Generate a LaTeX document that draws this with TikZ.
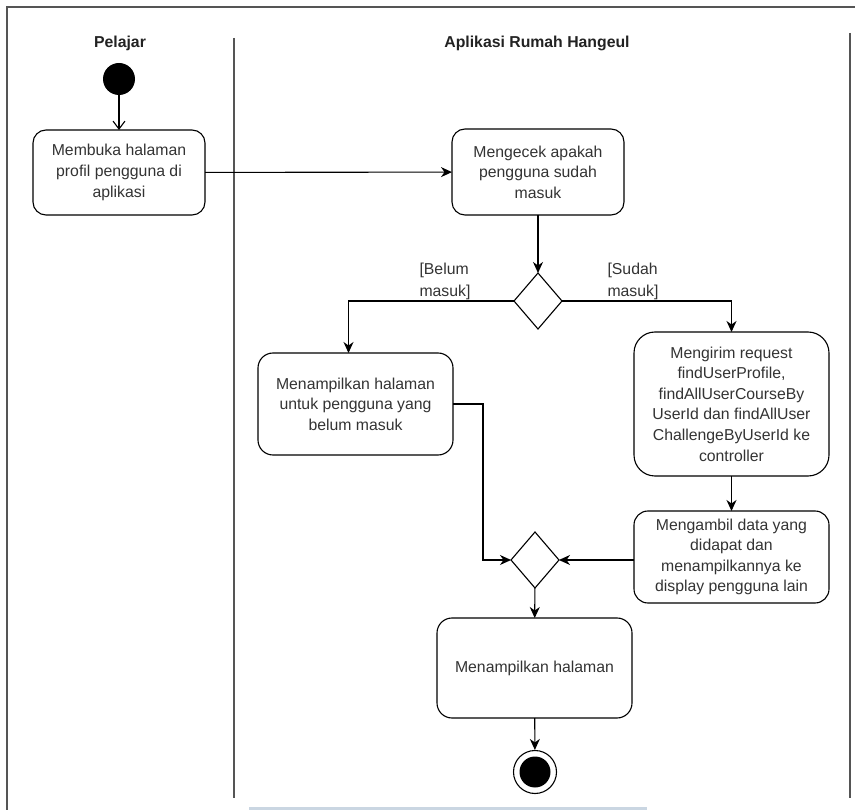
\documentclass[tikz,border=0pt]{standalone}
\usepackage{fontspec}
\setmainfont{Liberation Sans}
\usetikzlibrary{shapes.geometric,arrows.meta}
\definecolor{ink}{HTML}{333333}
\definecolor{headink}{HTML}{222222}
\definecolor{lanecol}{HTML}{555555}
\definecolor{barcol}{HTML}{CAD6E2}
\begin{document}
\begin{tikzpicture}[x=1pt,y=-1pt,
  act/.style={draw=black, line width=1.1pt, rounded corners=#1, align=center,
    text=ink, font=\fontsize{15.8}{20.6}\selectfont, inner sep=0pt, outer sep=0pt},
  act/.default=13pt,
  decision/.style={diamond, draw=black, line width=1.1pt, minimum width=48pt,
    minimum height=56pt, inner sep=0pt, outer sep=0pt},
  lanehead/.style={font=\bfseries\fontsize{15.8}{19}\selectfont, text=headink},
  guard/.style={align=left, text=ink, font=\fontsize{15.8}{22}\selectfont, inner sep=0pt},
  flow/.style={draw=black, line width=1.1pt, -{Stealth[length=11pt,width=10pt,inset=3.5pt]}},
  openflow/.style={draw=black, line width=1.1pt, -{Straight Barb[length=8pt,width=12pt]}},
  lane/.style={draw=lanecol, line width=1.4pt}]
\useasboundingbox (0,0) rectangle (855,810);

% swimlane frame and divider
\draw[lane] (7,810) -- (7,7) -- (855,7);
\draw[lane] (234,38) -- (234,798);
\draw[lane] (850,33) -- (850,798);
\fill[barcol] (249,807) rectangle (647,810);

% lane headers
\node[lanehead] (hpel) at (120,43) {Pelajar};
\node[lanehead] (happ) at (537,43) {Aplikasi Rumah Hangeul};

% start and end
\node[circle, fill=black, minimum size=32pt, inner sep=0pt] (start) at (119,79) {};
\node[circle, draw=black, line width=1.1pt, minimum size=43pt, inner sep=0pt] (end) at (535,772) {};
\node[circle, fill=black, minimum size=31pt, inner sep=0pt] (endin) at (535,772) {};

% activities
\node[act, minimum width=172pt, minimum height=85pt] (b1) at (119,172.5)
  {Membuka halaman\\profil pengguna di\\aplikasi};
\node[act, minimum width=172pt, minimum height=86pt] (b2) at (538,172)
  {Mengecek apakah\\pengguna sudah\\masuk};
\node[act=15pt, minimum width=195pt, minimum height=102pt] (b3) at (355.5,404)
  {Menampilkan halaman\\untuk pengguna yang\\belum masuk};
\node[act=21pt, minimum width=195pt, minimum height=144pt] (b4) at (731.5,404)
  {Mengirim request\\findUserProfile,\\findAllUserCourseBy\\UserId dan findAllUser\\ChallengeByUserId ke\\controller};
\node[act=14pt, minimum width=195pt, minimum height=92pt] (b5) at (731.5,557)
  {Mengambil data yang\\didapat dan\\menampilkannya ke\\display pengguna lain};
\node[act=15pt, minimum width=195pt, minimum height=100pt] (b6) at (534.5,668)
  {Menampilkan halaman};

% decisions
\node[decision] (d1) at (538,301) {};
\node[decision] (d2) at (535,560) {};

% guards
\node[guard] (gno) at (445,281) {[Belum\\masuk]};
\node[guard] (gyes) at (633,281) {[Sudah\\masuk]};

% flows
\draw[openflow] (start) -- (b1);
\draw[flow] (b1) -- (b2);
\draw[flow] (b2) -- (d1);
\draw[flow] (d1.west) -| ([xshift=-7pt]b3.north);
\draw[flow] (d1.east) -| (b4.north);
\draw[flow] (b4) -- (b5);
\draw[flow] (b3.east) -| ([xshift=-28pt]d2.west) -- (d2.west);
\draw[flow] (b5.west |- d2.east) -- (d2.east);
\draw[flow] (d2) -- (b6);
\draw[flow] (b6) -- (end);
\end{tikzpicture}
\end{document}
